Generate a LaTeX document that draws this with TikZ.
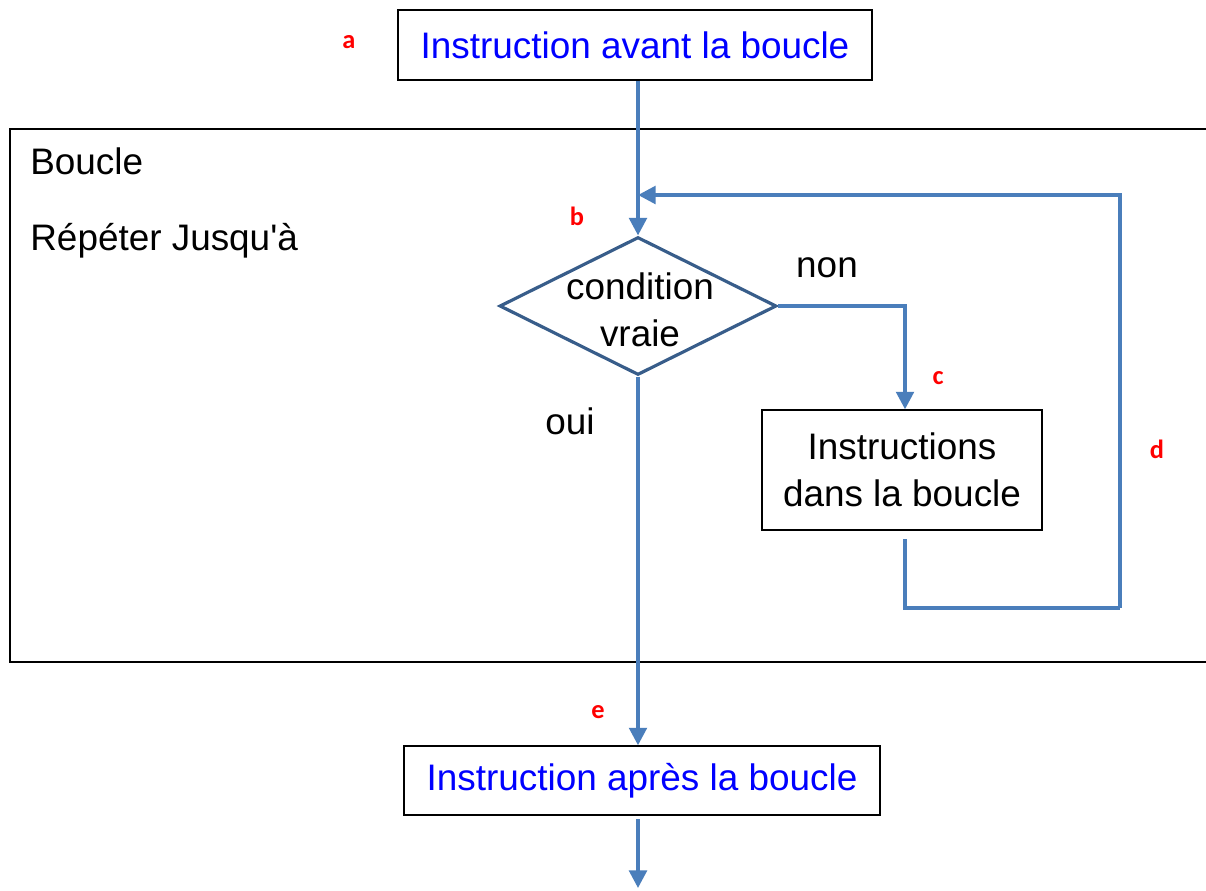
\documentclass[tikz,border=0pt]{standalone}
\usepackage{fontspec}
\setmainfont{Liberation Sans}
\newfontfamily\lblfont{Carlito}
\usetikzlibrary{arrows.meta,shapes.geometric,positioning}
\definecolor{flowblue}{RGB}{74,126,187}
\definecolor{diamblue}{RGB}{56,93,138}

\begin{document}
\begin{tikzpicture}[x=0.02cm,y=-0.02cm]
			\tikzstyle{every node}+=[inner sep=0pt]
			\tikzstyle{instr}=[draw=black,line width=0.8pt,minimum height=1.4cm,font=\fontsize{21}{27}\selectfont]
			\tikzstyle{flow}=[draw=flowblue,line width=2.1pt,-{Triangle[length=10pt,width=10pt]}]
			\tikzstyle{flowline}=[draw=flowblue,line width=2.1pt]
			\tikzstyle{txt}=[font=\fontsize{21}{27}\selectfont,align=center]
			\tikzstyle{tag}=[text=red,font=\lblfont\bfseries\fontsize{15}{17}\selectfont]
			\clip (0,0) rectangle (1206,890);
			\fill [white] (0,0) rectangle (1206,890);
			\draw [black,line width=0.8pt] (10,129) rectangle (1240,662);
			\node (boucle) [txt,anchor=west] at (30,161) {Boucle};
			\node (repeter) [txt,anchor=west] at (30,241) {Répéter Jusqu\textquotesingle à};
			\node (avant) [instr,text=blue,minimum width=9.48cm] at (635,45) {Instruction avant la boucle};
			\node (cond) [diamond,draw=diamblue,line width=1.8pt,minimum width=5.54cm,minimum height=2.76cm] at (638,306) {};
			\node (condtxt) [txt] at (640,310) {condition\\vraie};
			\node (dans) [instr,txt,minimum width=5.6cm,minimum height=2.4cm] at (902,470) {Instructions\\dans la boucle};
			\node (apres) [instr,text=blue,minimum width=9.52cm,minimum height=1.38cm] at (642,780.5) {Instruction après la boucle};
			\node (non) [txt] at (827,268) {non};
			\node (oui) [txt] at (570,421) {oui};
			\node (ta) [tag] at (349,42) {a};
			\node (tb) [tag] at (577,216) {b};
			\node (tc) [tag] at (938,378) {c};
			\node (td) [tag] at (1157,449) {d};
			\node (te) [tag] at (598,712) {e};
			\coordinate (join) at (638,195);
			\coordinate (turn) at (1120,608);
			\coordinate (out) at (638,888);
			\draw [flow] (avant.south -| cond.north) -- (cond.north);
			\draw [flow] (cond.east) -| (dans.north -| 905,0);
			\draw [flowline,shorten <=5pt] (dans.south -| 905,0) |- (turn);
			\draw [flow] (turn) |- (join);
			\draw [flow] (cond.south) -- (apres.north -| cond.south);
			\draw [flow,shorten <=2pt] (apres.south -| cond.south) -- (out);
\end{tikzpicture}
\end{document}
